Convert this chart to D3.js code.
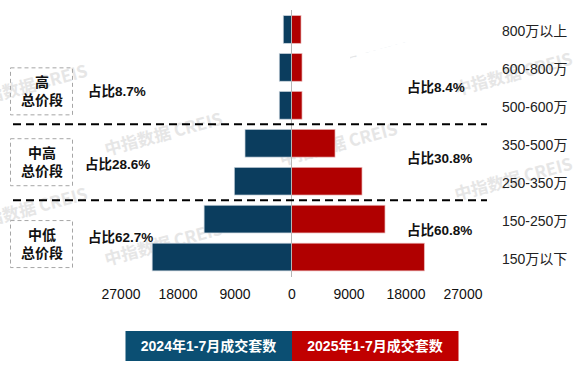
<!DOCTYPE html>
<html>
<head>
<meta charset="utf-8">
<script src="https://cdn.jsdelivr.net/npm/d3@7"></script>
<style>
  body { margin: 0; background: #fff; }
  text { font-family: "Liberation Sans", Arial, "Noto Sans CJK SC", sans-serif; }
</style>
</head>
<body>
<div id="chart"></div>
<script>
// price bands, top to bottom
var categories = ["800万以上", "600-800万", "500-600万", "350-500万", "250-350万", "150-250万", "150万以下"];
var sales2024 = [1300, 1930, 1930, 7340, 9030, 13800, 22000];
var sales2025 = [1500, 1660, 1660, 6870, 11130, 14760, 20970];
var ticks = [-27000, -18000, -9000, 0, 9000, 18000, 27000];

// groups of price bands
var groupNames = [["高", "总价段"], ["中高", "总价段"], ["中低", "总价段"]];
var groupRows = [[0, 2], [3, 4], [5, 6]];
var share2024 = ["占比8.7%", "占比28.6%", "占比62.7%"];
var share2025 = ["占比8.4%", "占比30.8%", "占比60.8%"];
var seriesNames = ["2024年1-7月成交套数", "2025年1-7月成交套数"];

var w = 582, h = 365;
var cjk = '"Noto Sans CJK SC", sans-serif';

var svg = d3.select("#chart").append("svg")
  .attr("width", w)
  .attr("height", h);

var x = d3.scaleLinear().domain([-27000, 27000]).range([120.5, 462.5]);
var y = d3.scaleBand().domain(categories).range([10.5, 276]).paddingInner(0.27).paddingOuter(0.135);

// watermark (the top one is cut by the tile edge)
svg.append("clipPath").attr("id", "wmclip")
  .append("rect").attr("x", 0).attr("y", 0).attr("width", 380).attr("height", 54);

var marks = [[165, 140], [515, 80], [340, 150], [515, 185], [30, 92], [30, 215], [165, 250]];
var wm = svg.append("g");
wm.selectAll("text")
  .data(marks)
  .enter().append("text")
  .attr("transform", function (d) { return "translate(" + d[0] + "," + d[1] + ") rotate(-15)"; })
  .attr("text-anchor", "middle")
  .attr("font-size", 17)
  .attr("font-weight", "bold")
  .attr("fill", "#e6e6e6")
  .style("font-family", cjk)
  .text("中指数据 CREIS");
wm.append("text")
  .attr("clip-path", "url(#wmclip)")
  .attr("transform", "translate(350,57) rotate(-15)")
  .attr("text-anchor", "middle")
  .attr("font-size", 17)
  .attr("font-weight", "bold")
  .attr("fill", "#e6e6e6")
  .style("font-family", cjk)
  .text("中指数据 CREIS");

// bars
var rows = categories.map(function (c, i) { return {cat: c, a: sales2024[i], b: sales2025[i]}; });

svg.append("g").selectAll("rect")
  .data(rows)
  .enter().append("rect")
  .attr("x", function (d) { return x(-d.a); })
  .attr("y", function (d) { return y(d.cat); })
  .attr("width", function (d) { return x(0) - x(-d.a); })
  .attr("height", y.bandwidth())
  .attr("fill", "#0b3d5e")
  .attr("stroke", "#c9d3dc")
  .attr("stroke-width", 0.7);

svg.append("g").selectAll("rect")
  .data(rows)
  .enter().append("rect")
  .attr("x", x(0))
  .attr("y", function (d) { return y(d.cat); })
  .attr("width", function (d) { return x(d.b) - x(0); })
  .attr("height", y.bandwidth())
  .attr("fill", "#b00000")
  .attr("stroke", "#e9b4b4")
  .attr("stroke-width", 0.7);

// zero line
svg.append("line")
  .attr("x1", x(0)).attr("x2", x(0))
  .attr("y1", 10).attr("y2", 277)
  .attr("stroke", "#b5b5b5")
  .attr("stroke-width", 1);

// dashed separators between groups
var sepY = groupRows.slice(1).map(function (g) {
  var prev = categories[g[0] - 1], next = categories[g[0]];
  return (y(prev) + y.bandwidth() + y(next)) / 2;
});
svg.append("g").selectAll("line")
  .data(sepY)
  .enter().append("line")
  .attr("x1", 13).attr("x2", 487)
  .attr("y1", function (d) { return d; })
  .attr("y2", function (d) { return d; })
  .attr("stroke", "#000")
  .attr("stroke-width", 2)
  .attr("stroke-dasharray", "8,5");

// category labels
svg.append("g").selectAll("text")
  .data(categories)
  .enter().append("text")
  .attr("x", 502)
  .attr("y", function (d) { return y(d) + y.bandwidth() / 2 + 2; })
  .attr("dy", "0.35em")
  .attr("font-size", 14)
  .attr("fill", "#222")
  .text(function (d) { return d; });

// x axis
var axis = svg.append("g")
  .attr("transform", "translate(0,286)")
  .call(d3.axisBottom(x).tickValues(ticks).tickSize(0).tickFormat(function (d) { return Math.abs(d); }));
axis.select(".domain").remove();
axis.selectAll("text")
  .attr("font-size", 14)
  .attr("fill", "#111")
  .style("font-family", '"Liberation Sans", Arial, sans-serif');

// group boxes and share labels
var groupCenter = function (g, i) {
  var a = categories[g[1] - 1], b = categories[g[1]];
  var c = (y(a) + y(b) + y.bandwidth()) / 2;
  return c + [5, 0, 6][i];
};

var gg = svg.append("g").selectAll("g")
  .data(groupRows)
  .enter().append("g");

gg.append("rect")
  .attr("x", 10.5)
  .attr("y", function (d, i) { return groupCenter(d, i) - 23.5; })
  .attr("width", 62)
  .attr("height", 47)
  .attr("fill", "none")
  .attr("stroke", "#a6a6a6")
  .attr("stroke-dasharray", "4,3");

gg.append("text")
  .attr("x", 42)
  .attr("y", function (d, i) { return groupCenter(d, i) - 9; })
  .attr("text-anchor", "middle")
  .attr("dy", "0.35em")
  .attr("font-size", 14)
  .attr("font-weight", "bold")
  .attr("fill", "#111")
  .style("font-family", cjk)
  .text(function (d, i) { return groupNames[i][0]; });

gg.append("text")
  .attr("x", 42)
  .attr("y", function (d, i) { return groupCenter(d, i) + 9; })
  .attr("text-anchor", "middle")
  .attr("dy", "0.35em")
  .attr("font-size", 14)
  .attr("font-weight", "bold")
  .attr("fill", "#111")
  .style("font-family", cjk)
  .text(function (d, i) { return groupNames[i][1]; });

gg.append("text")
  .attr("x", function (d, i) { return i == 1 ? 85 : 88; })
  .attr("y", function (d, i) { return groupCenter(d, i) + [0, 2, -7][i]; })
  .attr("dy", "0.35em")
  .attr("font-size", 13.5)
  .attr("font-weight", "bold")
  .attr("fill", "#111")
  .text(function (d, i) { return share2024[i]; });

gg.append("text")
  .attr("x", 407)
  .attr("y", function (d, i) { return groupCenter(d, i) + [-4, -4, -14][i]; })
  .attr("dy", "0.35em")
  .attr("font-size", 13.5)
  .attr("font-weight", "bold")
  .attr("fill", "#111")
  .text(function (d, i) { return share2025[i]; });

// legend
var legendColors = ["#0b4f73", "#c00000"];
var lg = svg.append("g").selectAll("g")
  .data(seriesNames)
  .enter().append("g")
  .attr("transform", function (d, i) { return "translate(" + (125.5 + i * 166.5) + ",331)"; });

lg.append("rect")
  .attr("width", 166.5)
  .attr("height", 30)
  .attr("fill", function (d, i) { return legendColors[i]; });

lg.append("text")
  .attr("x", 83)
  .attr("y", 15)
  .attr("dy", "0.35em")
  .attr("text-anchor", "middle")
  .attr("font-size", 14)
  .attr("font-weight", "bold")
  .attr("fill", "#fff")
  .text(function (d) { return d; });
</script>
</body>
</html>
